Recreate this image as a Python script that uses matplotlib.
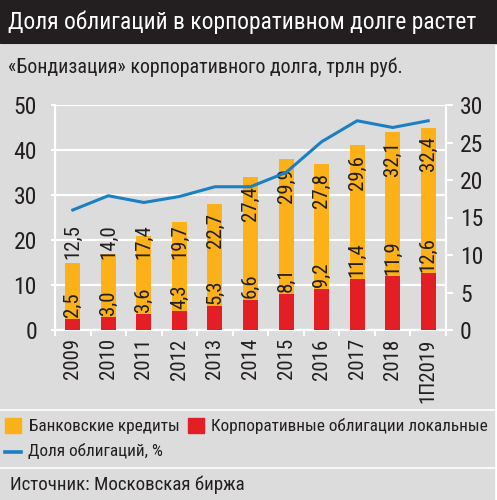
import matplotlib.pyplot as plt
from matplotlib.patches import Rectangle
from matplotlib.lines import Line2D
import numpy as np

years = ['2009', '2010', '2011', '2012', '2013', '2014', '2015', '2016', '2017', '2018', '1П2019']
bonds = [2.5, 3.0, 3.6, 4.3, 5.3, 6.6, 8.1, 9.2, 11.4, 11.9, 12.6]
loans = [12.5, 14.0, 17.4, 19.7, 22.7, 27.4, 29.9, 27.8, 29.6, 32.1, 32.4]
share = [16.0, 17.9, 17.0, 17.8, 19.1, 19.1, 21.0, 25.1, 27.9, 27.0, 27.9]

ORANGE = '#fbb117'
RED = '#e31e25'
BLUE = '#1a7fc3'
BG = '#dcdcdc'
DARK = '#231f20'

plt.rcParams['font.family'] = ['Roboto Condensed', 'PT Sans Narrow', 'DejaVu Sans']

W, H = 497, 500
fig = plt.figure(figsize=(W / 100, H / 100), dpi=100)
fig.patch.set_facecolor('white')
renderer = fig.canvas.get_renderer()


def px(x, y):
    return x / W, 1 - y / H


def box(x0, y0, x1, y1, color, z=-10):
    fx0, fy1 = px(x0, y1)
    fig.patches.append(Rectangle((fx0, fy1), (x1 - x0) / W, (y1 - y0) / H,
                                 transform=fig.transFigure, color=color, zorder=z))


def fit_text(s, x0, x1, y, size, color=DARK):
    # shrink the text so that it spans x0..x1 pixels
    t = fig.text(*px(x0, y), s, fontsize=size, color=color, va='center', ha='left')
    w = t.get_window_extent(renderer).width
    t.set_fontsize(size * min(1.0, (x1 - x0) / w))
    return t


# panels
box(0, 0, 497, 43, DARK)
box(0, 45, 494, 408, BG)
box(0, 411, 494, 466, BG)
box(0, 469, 494, 500, BG)

fit_text('Доля облигаций в корпоративном долге растет', 8, 475, 22, 19, 'white')
fit_text('«Бондизация» корпоративного долга, трлн руб.', 8, 405, 67, 16)

ax = fig.add_axes([55 / W, 170 / H, 391 / W, 225 / H])
ax.set_facecolor(BG)
x = np.arange(len(years))
totals = np.array(bonds) + np.array(loans)

ax.bar(x, bonds, width=0.42, color=RED, zorder=3)
ax.bar(x, loans, bottom=bonds, width=0.42, color=ORANGE, zorder=3)

for i in range(len(years)):
    ax.text(x[i], bonds[i] + 0.4, f'{bonds[i]:.1f}'.replace('.', ','), rotation=90,
            ha='center', va='bottom', fontsize=15, color=DARK, zorder=4)
    top = max(totals[i] - 2, 23.5)
    ax.text(x[i], top, f'{loans[i]:.1f}'.replace('.', ','), rotation=90,
            ha='center', va='top', fontsize=15, color=DARK, zorder=4)

ax.set_xlim(-0.5, len(years) - 0.5)
ax.set_ylim(0, 50)
ax.set_yticks(range(0, 51, 10))
ax.yaxis.grid(True, color='white', linewidth=1.6, zorder=1)
ax.set_axisbelow(True)
ax.set_xticks(x)
ax.set_xticklabels(years, rotation=90, fontsize=15, color=DARK, va='top')
ax.set_xticks(np.arange(-0.5, len(years), 1.0), minor=True)
ax.tick_params(axis='x', which='major', length=0, pad=6)
ax.tick_params(axis='x', which='minor', length=4, color='white', width=1.5)
ax.tick_params(axis='y', length=3, color='white', width=1.5, labelsize=17,
               labelcolor=DARK, pad=10)
ax.spines['top'].set_visible(False)
for s in ['left', 'bottom', 'right']:
    ax.spines[s].set_color('white')
    ax.spines[s].set_linewidth(1.6)

ax2 = ax.twinx()
ax2.plot(x, share, color=BLUE, linewidth=2.2, zorder=5)
ax2.set_ylim(0, 30)
ax2.set_yticks(range(0, 31, 5))
ax2.tick_params(axis='y', length=5, color='white', width=1.5, labelsize=17,
                labelcolor=DARK, pad=5)
for s in ax2.spines.values():
    s.set_visible(False)

# legend
box(5, 418, 21, 433, ORANGE)
t1 = fit_text('Банковские кредиты', 29, 180, 426, 15)
box(188, 418, 204, 433, RED)
t2 = fit_text('Корпоративные облигации локальные', 211, 490, 426, 15)
fig.lines.append(Line2D([5 / W, 21 / W], [1 - 452 / H] * 2, transform=fig.transFigure,
                        color=BLUE, linewidth=2.6))
t3 = fig.text(*px(28, 451), 'Доля облигаций, %', color=DARK, va='center', ha='left')
legend_size = min(t1.get_fontsize(), t2.get_fontsize())
for t in (t1, t2, t3):
    t.set_fontsize(legend_size)

fit_text('Источник: Московская биржа', 10, 245, 485, 15)

fig.savefig('out.png', dpi=100, facecolor=fig.get_facecolor())
